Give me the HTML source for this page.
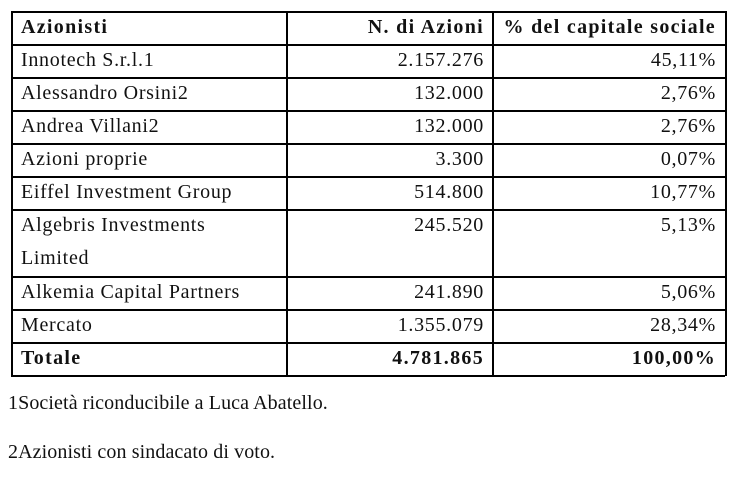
<!DOCTYPE html>
<html><head><style>
body{margin:0;background:#fff;width:748px;height:487px;position:relative;font-family:"Liberation Serif","DejaVu Serif",serif;color:#111;font-size:20px;overflow:hidden}
.h{position:absolute;left:11px;width:714px;height:1.5px;background:#000}
.v{position:absolute;top:11px;height:365px;width:1.5px;background:#000}
.t{position:absolute;line-height:33px;white-space:nowrap;letter-spacing:0.7px}
.f{letter-spacing:0.1px}
.r{text-align:right}
b{font-weight:bold;letter-spacing:1.3px}
</style></head><body>
<div class="h" style="top:11px"></div>
<div class="h" style="top:44px"></div>
<div class="h" style="top:77px"></div>
<div class="h" style="top:110px"></div>
<div class="h" style="top:143px"></div>
<div class="h" style="top:176px"></div>
<div class="h" style="top:209px"></div>
<div class="h" style="top:276px"></div>
<div class="h" style="top:309px"></div>
<div class="h" style="top:342px"></div>
<div class="h" style="top:375px"></div>
<div class="v" style="left:11px"></div>
<div class="v" style="left:286px"></div>
<div class="v" style="left:492px"></div>
<div class="v" style="left:725px"></div>

<div class="t" style="left:21px;top:11px"><b>Azionisti</b></div>
<div class="t r" style="left:290px;width:194px;top:11px"><b>N. di Azioni</b></div>
<div class="t r" style="left:496px;width:220px;top:11px"><b>% del capitale sociale</b></div>

<div class="t" style="left:21px;top:44px">Innotech S.r.l.1</div>
<div class="t r" style="left:290px;width:194px;top:44px">2.157.276</div>
<div class="t r" style="left:496px;width:220px;top:44px">45,11%</div>

<div class="t" style="left:21px;top:77px">Alessandro Orsini2</div>
<div class="t r" style="left:290px;width:194px;top:77px">132.000</div>
<div class="t r" style="left:496px;width:220px;top:77px">2,76%</div>

<div class="t" style="left:21px;top:110px">Andrea Villani2</div>
<div class="t r" style="left:290px;width:194px;top:110px">132.000</div>
<div class="t r" style="left:496px;width:220px;top:110px">2,76%</div>

<div class="t" style="left:21px;top:143px">Azioni proprie</div>
<div class="t r" style="left:290px;width:194px;top:143px">3.300</div>
<div class="t r" style="left:496px;width:220px;top:143px">0,07%</div>

<div class="t" style="left:21px;top:176px">Eiffel Investment Group</div>
<div class="t r" style="left:290px;width:194px;top:176px">514.800</div>
<div class="t r" style="left:496px;width:220px;top:176px">10,77%</div>

<div class="t" style="left:21px;top:209px">Algebris Investments</div>
<div class="t" style="left:21px;top:242px">Limited</div>
<div class="t r" style="left:290px;width:194px;top:209px">245.520</div>
<div class="t r" style="left:496px;width:220px;top:209px">5,13%</div>

<div class="t" style="left:21px;top:276px">Alkemia Capital Partners</div>
<div class="t r" style="left:290px;width:194px;top:276px">241.890</div>
<div class="t r" style="left:496px;width:220px;top:276px">5,06%</div>

<div class="t" style="left:21px;top:309px">Mercato</div>
<div class="t r" style="left:290px;width:194px;top:309px">1.355.079</div>
<div class="t r" style="left:496px;width:220px;top:309px">28,34%</div>

<div class="t" style="left:21px;top:342px"><b>Totale</b></div>
<div class="t r" style="left:290px;width:194px;top:342px"><b>4.781.865</b></div>
<div class="t r" style="left:496px;width:220px;top:342px"><b>100,00%</b></div>

<div class="t f" style="left:8px;top:387px">1Società riconducibile a Luca Abatello.</div>
<div class="t f" style="left:8px;top:436px">2Azionisti con sindacato di voto.</div>
</body></html>
